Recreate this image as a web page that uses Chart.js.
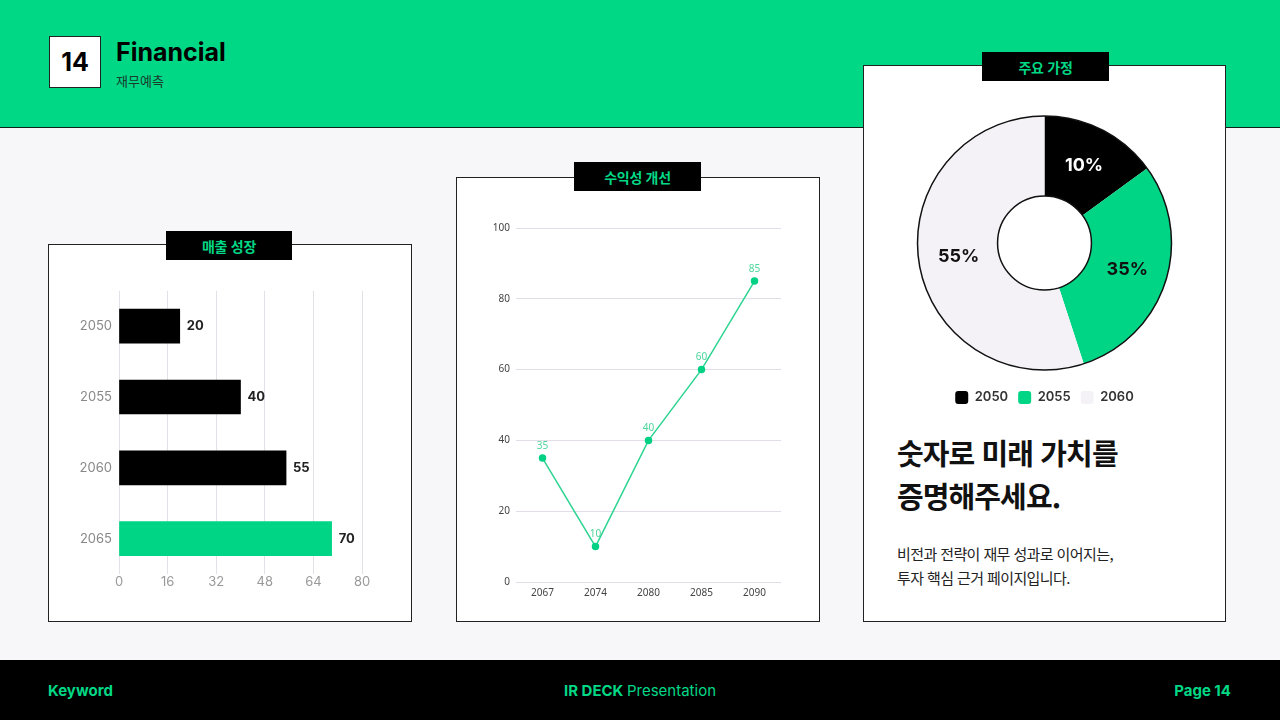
<!DOCTYPE html>
<html lang="ko">
<head>
<meta charset="utf-8">
<title>Financial</title>
<script src="https://cdn.jsdelivr.net/npm/chart.js@4.4.0/dist/chart.umd.min.js"></script>
<style>
* { margin: 0; padding: 0; box-sizing: border-box; }
body {
    width: 1280px; height: 720px; position: relative; overflow: hidden;
    background: #f7f6f9;
    font-family: Inter, 'Noto Sans CJK KR', sans-serif;
}
.header {
    position: absolute; left: 0; top: 0; width: 1280px; height: 128px;
    background: #00d886; border-bottom: 1.5px solid #10231a;
}
.badge {
    position: absolute; left: 49px; top: 36px; width: 52px; height: 52px;
    background: #fff; border: 1.5px solid #222;
    font: 700 25px Inter, sans-serif; color: #000;
    display: flex; align-items: center; justify-content: center;
}
.title { position: absolute; left: 116px; top: 37px; font: 700 25px Inter, sans-serif; color: #000; }
.subtitle { position: absolute; left: 116px; top: 71px; font: 400 13px 'Noto Sans CJK KR', sans-serif; color: #1b3a2c; }
.card { position: absolute; background: #fff; border: 1.5px solid #222; }
.tab {
    position: absolute; height: 29px; background: #000; color: #00d886;
    font: 700 14px 'Noto Sans CJK KR', sans-serif; letter-spacing: -0.3px;
    display: flex; align-items: center; justify-content: center;
}
.box { position: absolute; }
.headline {
    position: absolute; left: 897px; top: 431px;
    font: 700 29px 'Noto Sans CJK KR', sans-serif; line-height: 43px; color: #111;
    letter-spacing: -0.9px;
}
.desc {
    position: absolute; left: 897px; top: 542px;
    font: 400 15px 'Noto Sans CJK KR', sans-serif; line-height: 24px; color: #222;
    letter-spacing: -0.6px;
}
.footer { position: absolute; left: 0; top: 660px; width: 1280px; height: 60px; background: #000; }
.foot { position: absolute; top: 681px; font: 700 15px Inter, sans-serif; color: #00d886; }
</style>
</head>
<body>
<div class="header"></div>
<div class="badge">14</div>
<div class="title">Financial</div>
<div class="subtitle">재무예측</div>

<div class="card" style="left:48px; top:244px; width:364px; height:378px;"></div>
<div class="tab" style="left:166px; top:231px; width:126px;">매출 성장</div>
<div class="card" style="left:456px; top:177px; width:364px; height:445px;"></div>
<div class="tab" style="left:574px; top:162px; width:127px;">수익성 개선</div>
<div class="card" style="left:863px; top:65px; width:363px; height:557px;"></div>
<div class="tab" style="left:982px; top:52px; width:127px;">주요 가정</div>

<div class="box" style="left:60px; top:276px; width:330px; height:318px;"><canvas id="revenueChart"></canvas></div>
<div class="box" style="left:470px; top:210px; width:330px; height:396px;"><canvas id="profitChart"></canvas></div>
<div class="box" style="left:864px; top:105px; width:361px; height:309px;"><canvas id="shareChart"></canvas></div>

<div class="headline">숫자로 미래 가치를<br>증명해주세요.</div>
<div class="desc">비전과 전략이 재무 성과로 이어지는,<br>투자 핵심 근거 페이지입니다.</div>

<div class="footer"></div>
<div class="foot" style="left:48px;">Keyword</div>
<div class="foot" style="left:0; width:1280px; text-align:center;">IR DECK <span style="font-weight:400;">Presentation</span></div>
<div class="foot" style="right:49px;">Page 14</div>

<script>
const revenueYears = ['2050', '2055', '2060', '2065'];
const revenueValues = [20, 40, 55, 70];
const revenueColors = ['#000000', '#000000', '#000000', '#00d585'];
const revenueTicks = [0, 16, 32, 48, 64, 80];

const profitYears = ['2067', '2074', '2080', '2085', '2090'];
const profitValues = [35, 10, 40, 60, 85];
const profitTicks = [0, 20, 40, 60, 80, 100];

const shareYears = ['2050', '2055', '2060'];
const shareValues = [15, 30, 55];
const shareLabels = ['10%', '35%', '55%'];
const shareColors = ['#000000', '#00d585', '#f4f2f7'];
const shareLabelColors = ['#ffffff', '#111111', '#111111'];

Chart.defaults.font.family = "Inter, 'Noto Sans CJK KR', sans-serif";
Chart.defaults.animation = false;

const barValueLabels = {
    id: 'barValueLabels',
    afterDatasetsDraw(chart) {
        const ctx = chart.ctx;
        const values = chart.data.datasets[0].data;
        ctx.save();
        ctx.font = '700 13px Inter, sans-serif';
        ctx.fillStyle = '#222';
        ctx.textBaseline = 'middle';
        chart.getDatasetMeta(0).data.forEach((bar, i) => {
            ctx.fillText(values[i], bar.x + 7, bar.y);
        });
        ctx.restore();
    }
};

const pointValueLabels = {
    id: 'pointValueLabels',
    afterDatasetsDraw(chart) {
        const ctx = chart.ctx;
        const values = chart.data.datasets[0].data;
        ctx.save();
        ctx.font = "400 10px 'Noto Sans', sans-serif";
        ctx.fillStyle = '#4cd69b';
        ctx.textAlign = 'center';
        ctx.textBaseline = 'bottom';
        chart.getDatasetMeta(0).data.forEach((pt, i) => {
            ctx.fillText(values[i], pt.x, pt.y - 7);
        });
        ctx.restore();
    }
};

const ringDecor = {
    id: 'ringDecor',
    afterDatasetsDraw(chart) {
        const ctx = chart.ctx;
        const arcs = chart.getDatasetMeta(0).data;
        const a = arcs[0];
        ctx.save();
        ctx.strokeStyle = '#111';
        ctx.lineWidth = 1.5;
        ctx.beginPath(); ctx.arc(a.x, a.y, a.outerRadius, 0, Math.PI * 2); ctx.stroke();
        ctx.beginPath(); ctx.arc(a.x, a.y, a.innerRadius, 0, Math.PI * 2); ctx.stroke();
        ctx.font = '700 18px Inter, sans-serif';
        ctx.textAlign = 'center';
        ctx.textBaseline = 'middle';
        arcs.forEach((arc, i) => {
            const p = arc.tooltipPosition();
            ctx.fillStyle = shareLabelColors[i];
            ctx.fillText(shareLabels[i], p.x, p.y);
        });
        ctx.restore();
    }
};

new Chart(document.getElementById('revenueChart'), {
    type: 'bar',
    data: {
        labels: revenueYears,
        datasets: [{
            data: revenueValues,
            backgroundColor: revenueColors,
            barThickness: 34
        }]
    },
    options: {
        indexAxis: 'y',
        responsive: true,
        maintainAspectRatio: false,
        layout: { padding: { top: 6, right: 28, bottom: 0, left: 0 } },
        plugins: { legend: { display: false }, tooltip: { enabled: false } },
        scales: {
            x: {
                min: 0, max: 80,
                afterBuildTicks: s => { s.ticks = revenueTicks.map(v => ({ value: v })); },
                afterFit: s => { s.height = 20; },
                grid: { color: '#e3e0e8', drawTicks: false },
                border: { display: false },
                ticks: { color: '#999', font: { size: 13 }, padding: 0 }
            },
            y: {
                afterFit: s => { s.width = 59; },
                grid: { display: false, drawTicks: false },
                border: { display: false },
                ticks: { color: '#888', font: { size: 13 }, padding: 7 }
            }
        }
    },
    plugins: [barValueLabels]
});

new Chart(document.getElementById('profitChart'), {
    type: 'line',
    data: {
        labels: profitYears,
        datasets: [{
            data: profitValues,
            borderColor: '#2ed491',
            borderWidth: 1.5,
            pointBackgroundColor: '#00d184',
            pointBorderColor: '#00d184',
            pointRadius: 3,
            tension: 0
        }]
    },
    options: {
        responsive: true,
        maintainAspectRatio: false,
        layout: { padding: { top: 18, right: 19, bottom: 0, left: 0 } },
        plugins: { legend: { display: false }, tooltip: { enabled: false } },
        scales: {
            x: {
                offset: true,
                afterFit: s => { s.height = 24; },
                grid: { display: false, drawTicks: false },
                border: { display: false },
                ticks: { color: '#444', font: { family: "'Noto Sans', sans-serif", size: 10 }, padding: 5 }
            },
            y: {
                min: 0, max: 100,
                afterBuildTicks: s => { s.ticks = profitTicks.map(v => ({ value: v })); },
                afterFit: s => { s.width = 46; },
                grid: { color: '#e2dde8', drawTicks: false },
                border: { display: false },
                ticks: { color: '#444', font: { family: "'Noto Sans', sans-serif", size: 10 }, padding: 6 }
            }
        }
    },
    plugins: [pointValueLabels]
});

new Chart(document.getElementById('shareChart'), {
    type: 'doughnut',
    data: {
        labels: shareYears,
        datasets: [{
            data: shareValues,
            backgroundColor: shareColors,
            borderWidth: 0,
            radius: 127,
            cutout: 51
        }]
    },
    options: {
        responsive: true,
        maintainAspectRatio: false,
        plugins: {
            tooltip: { enabled: false },
            legend: {
                position: 'bottom',
                labels: {
                    boxWidth: 13, boxHeight: 13, padding: 10,
                    useBorderRadius: true, borderRadius: 3,
                    color: '#333', font: { size: 13, weight: '600' }
                }
            }
        }
    },
    plugins: [ringDecor]
});
</script>
</body>
</html>
